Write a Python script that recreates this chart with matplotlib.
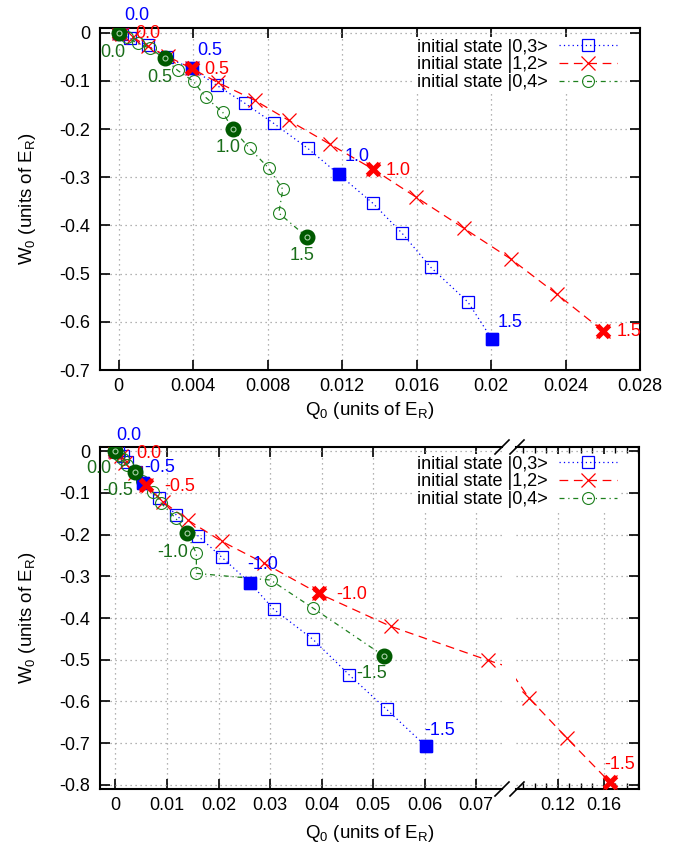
import matplotlib
matplotlib.use('Agg')
import matplotlib.pyplot as plt
from matplotlib.lines import Line2D
from matplotlib.ticker import MultipleLocator, FuncFormatter, FixedLocator

plt.rcParams['font.family'] = ['Liberation Sans', 'DejaVu Sans']
plt.rcParams['mathtext.fontset'] = 'custom'
plt.rcParams['mathtext.rm'] = 'Liberation Sans'
plt.rcParams['mathtext.default'] = 'regular'
plt.rcParams['axes.unicode_minus'] = False

# ---------------- data ----------------
# top panel: parameter 0.0 ... 1.5 (step 0.1)
top_q_03 = [0, 0.00016, 0.00059, 0.00156, 0.00258, 0.00392, 0.00527, 0.00677, 0.00833,
            0.01016, 0.01183, 0.01366, 0.01522, 0.01677, 0.01876, 0.02005]
top_w_03 = [0, -0.003, -0.011, -0.026, -0.051, -0.074, -0.109, -0.146, -0.188,
            -0.240, -0.294, -0.354, -0.416, -0.487, -0.559, -0.636]
top_q_12 = [0, 0.00016, 0.00075, 0.00156, 0.00263, 0.00392, 0.00532, 0.00731, 0.00914,
            0.01134, 0.01366, 0.01597, 0.01855, 0.02108, 0.02355, 0.02602]
top_w_12 = [0, -0.003, -0.009, -0.028, -0.049, -0.074, -0.103, -0.140, -0.182,
            -0.231, -0.283, -0.341, -0.406, -0.470, -0.543, -0.619]
top_q_04 = [0, 0.00010, 0.00043, 0.00102, 0.00167, 0.00247, 0.00317, 0.00403, 0.00468,
            0.00559, 0.00613, 0.00704, 0.00806, 0.00882, 0.00860, 0.01011]
top_w_04 = [0, -0.001, -0.009, -0.022, -0.032, -0.053, -0.078, -0.101, -0.134,
            -0.165, -0.200, -0.240, -0.281, -0.325, -0.374, -0.424]
top_labels = ['0.0', '0.5', '1.0', '1.5']

# bottom panel: parameter 0.0 ... -1.5 (step -0.1)
bot_q_03 = [0, 0.0004, 0.0014, 0.0023, 0.0039, 0.0054, 0.0085, 0.0118, 0.0161,
            0.0206, 0.0262, 0.0307, 0.0383, 0.0454, 0.0526, 0.0602]
bot_w_03 = [0, -0.002, -0.012, -0.026, -0.050, -0.077, -0.113, -0.153, -0.204,
            -0.254, -0.317, -0.379, -0.451, -0.537, -0.619, -0.707]
bot_q_12 = [0, 0.0002, 0.0010, 0.0019, 0.0037, 0.0060, 0.0093, 0.0140, 0.0206,
            0.0289, 0.0394, 0.0534, 0.0722, 0.0948, 0.1278, 0.1652]
bot_w_12 = [0, -0.002, -0.012, -0.029, -0.053, -0.082, -0.122, -0.165, -0.216,
            -0.269, -0.341, -0.420, -0.501, -0.592, -0.688, -0.794]
bot_q_04 = [0, 0.0002, 0.0006, 0.0014, 0.0023, 0.0037, 0.0052, 0.0072, 0.0089,
            0.0117, 0.0138, 0.0157, 0.0157, 0.0301, 0.0383, 0.0522]
bot_w_04 = [0, -0.002, -0.010, -0.019, -0.034, -0.050, -0.072, -0.098, -0.125,
            -0.161, -0.197, -0.245, -0.293, -0.309, -0.376, -0.492]
bot_labels = ['0.0', '-0.5', '-1.0', '-1.5']

legend_labels = ['initial state |0,3>', 'initial state |1,2>', 'initial state |0,4>']
filled_idx = [0, 5, 10, 15]

# ---------------- styles ----------------
BLUE = '#0000ff'
RED = '#ff0000'
GREEN = '#1e801e'
DGREEN = '#005a00'
GTEXT = '#1a6e1a'

styles = [
    dict(color=BLUE, ls=(0, (1, 2.5)), marker='s', ms=8.3, mew=0.9),
    dict(color=RED, ls=(0, (7, 4.5)), marker='x', ms=9.4, mew=0.9),
    dict(color=GREEN, ls=(0, (4, 3, 1, 3)), marker='o', ms=8.6, mew=0.8),
]

W, H = 682, 847
fig = plt.figure(figsize=(W / 100, H / 100), dpi=100)


def rect(l, r, t, b):
    return [l / W, 1 - b / H, (r - l) / W, (b - t) / H]


ax_top = fig.add_axes(rect(100, 640, 28, 370))
ax_bl = fig.add_axes(rect(100, 502, 447, 789))
ax_br = fig.add_axes(rect(516, 639, 447, 789))

GRID = dict(color='#9a9a9a', linestyle=(0, (1, 3)), linewidth=0.9)


def qfmt(v, pos):
    if abs(v) < 1e-12:
        return '0'
    return f'{v:g}'


def wfmt(v, pos):
    if abs(v) < 1e-9:
        return '0'
    return f'{v:.1f}'


def style_axis(ax):
    for s in ax.spines.values():
        s.set_linewidth(1.5)
    ax.tick_params(which='major', direction='in', length=7, width=1.2,
                   labelsize=13, top=True, right=True, pad=6)
    ax.tick_params(axis='y', pad=7)
    ax.grid(True, which='major', **GRID)
    ax.set_axisbelow(True)


def draw_series(ax, q, w, st, fill_style):
    ax.plot(q, w, color=st['color'], ls=st['ls'], lw=0.9, marker=st['marker'],
            ms=st['ms'], mew=st['mew'], mfc='none', mec=st['color'],
            clip_on=True, zorder=3)
    fq = [q[i] for i in filled_idx]
    fw = [w[i] for i in filled_idx]
    if fill_style == 's':
        ax.plot(fq, fw, ls='none', marker='s', ms=9.2, color=BLUE, zorder=4)
    elif fill_style == 'x':
        ax.plot(fq, fw, ls='none', marker='x', ms=9.0, mew=3.6, color=RED, zorder=5)
    else:
        ax.plot(fq, fw, ls='none', marker='o', ms=10.5, color=DGREEN, zorder=6)
        ax.plot(fq, fw, ls='none', marker='o', ms=3.6, mfc='none', mec='#a8d0a8',
                mew=0.8, zorder=7)


def add_labels(ax, q, w, texts, offsets, color, ha_list):
    for k, i in enumerate(filled_idx):
        if not texts[k]:
            continue
        dx, dy = offsets[k]
        ax.annotate(texts[k], xy=(q[i], w[i]), xytext=(dx * 0.72, -dy * 0.72),
                    textcoords='offset points', ha=ha_list[k], va='center',
                    color=color, fontsize=13, annotation_clip=False, zorder=8)


# ---------------- top panel ----------------
style_axis(ax_top)
ax_top.set_xlim(-0.001, 0.028)
ax_top.set_ylim(-0.7, 0.01)
ax_top.xaxis.set_major_locator(FixedLocator([0, 0.004, 0.008, 0.012, 0.016, 0.02, 0.024, 0.028]))
ax_top.yaxis.set_major_locator(MultipleLocator(0.1))
ax_top.xaxis.set_major_formatter(FuncFormatter(qfmt))
ax_top.yaxis.set_major_formatter(FuncFormatter(wfmt))

draw_series(ax_top, top_q_03, top_w_03, styles[0], 's')
draw_series(ax_top, top_q_12, top_w_12, styles[1], 'x')
draw_series(ax_top, top_q_04, top_w_04, styles[2], 'o')

add_labels(ax_top, top_q_03, top_w_03, top_labels,
           [(18, -17), (18, -18), (18, -18), (18, -17)], BLUE, ['center'] * 4)
add_labels(ax_top, top_q_12, top_w_12, top_labels,
           [(17, 1), (13, 1), (13, 1), (13, 1)], RED, ['left'] * 4)
add_labels(ax_top, top_q_04, top_w_04, top_labels,
           [(-6, 20), (-5, 19), (-5, 18), (-5, 18)], GTEXT, ['center'] * 4)

# ---------------- bottom panel (broken x axis) ----------------
for ax in (ax_bl, ax_br):
    style_axis(ax)
    ax.set_ylim(-0.81, 0.01)
    ax.yaxis.set_major_locator(MultipleLocator(0.1))
    ax.yaxis.set_major_formatter(FuncFormatter(wfmt))
    ax.xaxis.set_major_formatter(FuncFormatter(qfmt))

ax_bl.set_xlim(-0.003, 0.075)
ax_bl.xaxis.set_major_locator(FixedLocator([0, 0.01, 0.02, 0.03, 0.04, 0.05, 0.06, 0.07]))
ax_bl.spines['right'].set_visible(False)
ax_bl.tick_params(axis='y', right=False)

ax_br.set_xlim(0.0835, 0.1905)
ax_br.xaxis.set_major_locator(FixedLocator([0.12, 0.16]))
ax_br.xaxis.set_minor_locator(FixedLocator([0.09, 0.10, 0.11, 0.13, 0.14, 0.15, 0.17, 0.18, 0.19]))
ax_br.tick_params(which='minor', direction='in', length=4, width=1.0, top=True, bottom=True)
ax_br.spines['left'].set_visible(False)
ax_br.tick_params(axis='y', left=False, labelleft=False, right=True)

for ax in (ax_bl, ax_br):
    draw_series(ax, bot_q_03, bot_w_03, styles[0], 's')
    draw_series(ax, bot_q_12, bot_w_12, styles[1], 'x')
    draw_series(ax, bot_q_04, bot_w_04, styles[2], 'o')

add_labels(ax_bl, bot_q_03, bot_w_03, bot_labels,
           [(13, -16), (16, -16), (12, -19), (14, -16)], BLUE, ['center'] * 4)
add_labels(ax_bl, bot_q_12, bot_w_12, bot_labels[:3] + [''],
           [(21, 2), (18, 1), (18, 1), (0, 0)], RED, ['left'] * 4)
ax_br.annotate(bot_labels[3], xy=(bot_q_12[15], bot_w_12[15]), xytext=(10 * 0.72, 18 * 0.72),
               textcoords='offset points', ha='center', va='center', color=RED,
               fontsize=13, annotation_clip=False, zorder=8)
add_labels(ax_bl, bot_q_04, bot_w_04, bot_labels,
           [(-17, 17), (-17, 18), (-14, 19), (-13, 17)], GTEXT, ['center'] * 4)

# break marks
for ypx in (447, 789):
    for cx in (502, 517):
        fig.add_artist(Line2D([(cx - 7) / W, (cx + 7) / W],
                              [1 - (ypx + 7) / H, 1 - (ypx - 7) / H],
                              color='black', lw=1.2, transform=fig.transFigure))

# ---------------- legends ----------------
handles = [Line2D([], [], color=st['color'], ls=st['ls'], lw=0.9, marker=st['marker'],
                  ms=st['ms'], mew=st['mew'], mfc='none') for st in styles]
leg_kw = dict(loc='upper right', bbox_transform=fig.transFigure, frameon=True,
              facecolor='white', edgecolor='none', framealpha=1, fancybox=False,
              markerfirst=False, handlelength=3.2, handletextpad=0.65,
              labelspacing=0.03, borderpad=0.1, fontsize=13, borderaxespad=0)
leg1 = ax_top.legend(handles, legend_labels, bbox_to_anchor=(619 / W, 1 - 37 / H), **leg_kw)
leg1.set_zorder(20)
leg2 = ax_br.legend(handles, legend_labels, bbox_to_anchor=(619 / W, 1 - 454 / H), **leg_kw)
leg2.set_zorder(20)

# ---------------- axis labels ----------------
fig.text(28 / W, 1 - 199 / H, 'W$_0$ (units of E$_R$)', rotation=90, ha='center', va='center', fontsize=13.5)
fig.text(28 / W, 1 - 618 / H, 'W$_0$ (units of E$_R$)', rotation=90, ha='center', va='center', fontsize=13.5)
fig.text(370 / W, 1 - 410 / H, 'Q$_0$ (units of E$_R$)', ha='center', va='center', fontsize=13.5)
fig.text(370 / W, 1 - 833 / H, 'Q$_0$ (units of E$_R$)', ha='center', va='center', fontsize=13.5)

fig.savefig('out.png', dpi=100)
